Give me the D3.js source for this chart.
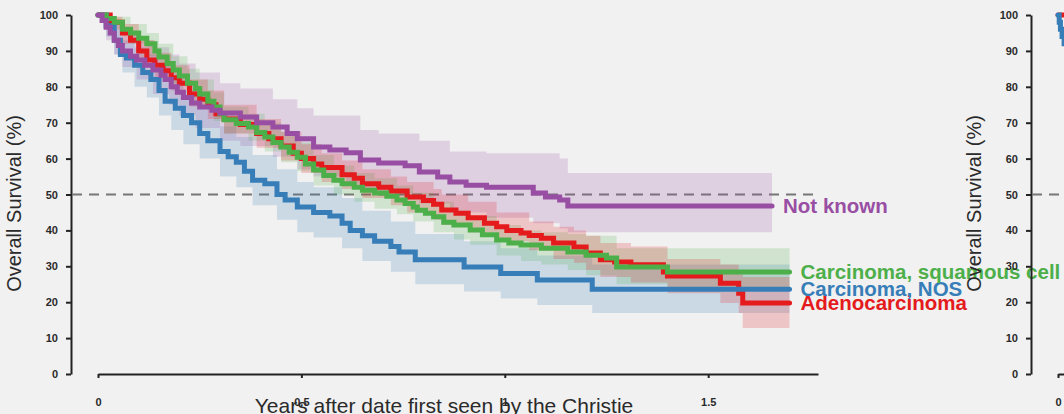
<!DOCTYPE html>
<html>
<head>
<meta charset="utf-8">
<script src="https://cdn.jsdelivr.net/npm/d3@7"></script>
<style>
  html, body { margin: 0; padding: 0; background: #f1f1f1; overflow: hidden; }
  svg { display: block; }
</style>
</head>
<body>
<svg id="chart" width="1064" height="414"></svg>
<script>
// ---- Kaplan-Meier survival by histology (years after date first seen by the Christie) ----

const seriesNames = ["Adenocarcinoma", "Carcinoma, NOS", "Carcinoma, squamous cell", "Not known"];
const yTickValues = [0, 10, 20, 30, 40, 50, 60, 70, 80, 90, 100];
const xTickValues = [0, 0.5, 1, 1.5];
const xTickLabels = ["0", "0.5", "1", "1.5"];
const medianLine = 50;

// Adenocarcinoma
const adenoTime = [0,0.03,0.06,0.08,0.10,0.12,0.14,0.16,0.18,0.20,0.225,0.25,0.27,0.29,0.31,0.35,0.39,0.42,0.45,0.48,0.50,0.53,0.55,0.60,0.63,0.65,0.69,0.72,0.76,0.80,0.825,0.845,0.88,0.91,0.95,0.98,1.005,1.04,1.06,1.09,1.12,1.17,1.20,1.235,1.27,1.31,1.39,1.40,1.53,1.575,1.585,1.70];
const adenoSurv = [100,98,95,93,90,87.5,86,84.5,82.5,81,78,76.5,75,72.5,71,69.5,67,65.5,63.5,61.5,60,58.5,57.5,55.5,54.5,53,52,51,49.3,48.3,47.3,45.7,44.8,43.5,42,41,40,39.3,38.6,37.8,36.5,35.4,33.7,31.8,31.2,30.4,28.4,27.3,25.3,22.5,19.8,19.8];
const adenoBandTime = [0,0.03,0.06,0.10,0.14,0.18,0.225,0.27,0.31,0.39,0.45,0.50,0.55,0.60,0.65,0.72,0.76,0.825,0.845,0.91,0.98,1.06,1.12,1.17,1.20,1.235,1.31,1.40,1.53,1.575,1.585,1.70];
const adenoLower = [100,96,92,87,82.5,79,74.5,71,67,63,59.5,56,53.5,51.5,49,47,45,43,41.5,39.5,37,34.5,32,31,29,27,25.5,22.5,19.8,17,12.8,12.8];
const adenoUpper = [100,99.5,97.5,93,89.5,86,82,79,75,71,67.5,64,61.5,59.5,57,55,53.5,51.5,50,48,45,42.5,41,40,38.5,36.5,35.5,32,30.5,28,27,27];

// Carcinoma, NOS
const nosTime = [0,0.02,0.04,0.055,0.07,0.09,0.11,0.13,0.15,0.165,0.19,0.21,0.23,0.25,0.27,0.30,0.32,0.34,0.36,0.38,0.41,0.44,0.46,0.49,0.53,0.57,0.60,0.62,0.65,0.68,0.72,0.74,0.78,0.90,0.99,1.08,1.215,1.70];
const nosSurv = [100,97,93,89,88,86,84,82,79,76,74,72,70,67,65,62,60.5,59,56.5,54,53,50,48.5,46.5,45,44,42,40,38.5,37,35.5,34,31.8,29.8,28,26.2,23.6,23.6];
const nosBandTime = [0,0.02,0.04,0.06,0.09,0.12,0.15,0.18,0.21,0.25,0.30,0.34,0.38,0.44,0.49,0.53,0.60,0.65,0.72,0.78,0.90,0.99,1.08,1.215,1.70];
const nosLower = [100,94,89,84,80,77,72,68,64,60,55,52,47,43,39.5,38,35,31.5,28.5,25,23,21,19.2,17,17];
const nosUpper = [100,99,96,93,91,89,86,82,79,74,69,66,61,57,53.5,52,49,45.5,42.5,39,37,35,33,30.5,30.5];

// Carcinoma, squamous cell
const sqTime = [0,0.02,0.04,0.06,0.08,0.10,0.12,0.14,0.15,0.17,0.185,0.20,0.22,0.24,0.25,0.27,0.285,0.30,0.31,0.34,0.37,0.39,0.41,0.43,0.45,0.47,0.49,0.51,0.53,0.555,0.58,0.60,0.63,0.65,0.68,0.71,0.735,0.755,0.775,0.785,0.805,0.825,0.85,0.875,0.915,0.945,0.98,1.01,1.04,1.09,1.155,1.20,1.25,1.275,1.40,1.70];
const sqSurv = [100,99,98,96,95,93.5,92,90,88.3,86.5,84.7,83,81,79.5,78,76,74.4,72.5,70.8,69.8,68.8,67.3,66,64.5,63.2,61.8,60.4,58.5,56.8,55.3,54,53,52,51.2,50.4,49.5,48.5,47.5,46.5,45.6,44.8,43.8,42.3,41.5,40.1,38.8,37.3,36.5,35.9,35,34,33.1,32.3,29.8,28.4,28.4];
const sqBandTime = [0,0.04,0.08,0.12,0.15,0.185,0.22,0.25,0.285,0.31,0.37,0.41,0.45,0.49,0.53,0.58,0.63,0.68,0.735,0.775,0.825,0.875,0.915,0.98,1.04,1.09,1.155,1.20,1.275,1.40,1.70];
const sqLower = [100,96,92,88.5,84.5,81,77,74,70.5,67,65,62,59,56.5,52.5,50,48,46,44.5,42.5,39.5,37.5,36,33,31.5,30.5,29,27.5,25,23.5,22];
const sqUpper = [100,99.5,97.5,95,92,88.5,85,82,78.5,74.5,72.5,70,67.5,64.5,61,58,56,54.5,52.5,50.5,48,45.5,44,41.5,40,39.5,39,38.5,35,35,35];

// Not known
const nkTime = [0,0.01,0.02,0.03,0.04,0.05,0.06,0.08,0.095,0.115,0.135,0.155,0.165,0.18,0.195,0.21,0.23,0.25,0.28,0.30,0.35,0.39,0.43,0.465,0.49,0.53,0.57,0.61,0.645,0.69,0.755,0.79,0.835,0.865,0.905,0.955,1.07,1.10,1.135,1.155,1.657];
const nkSurv = [100,98.5,96.6,95,93,91.5,90,88.5,87.5,86,84.7,83.2,82,80,78.5,77,75.5,74.4,73.5,72.7,71.6,70,68.8,67,65.5,63.2,62.4,61.6,59.6,58.8,58,56.3,54.9,53.5,52.6,52,50.4,49.3,48.5,46.8,46.8];
const nkBandTime = [0,0.02,0.04,0.06,0.095,0.135,0.175,0.20,0.24,0.30,0.35,0.43,0.49,0.53,0.61,0.645,0.69,0.79,0.865,0.955,1.07,1.135,1.155,1.657];
const nkLower = [100,93,89,85.5,82,78,75,72,68.5,65,63.5,60.5,57,55,53,51,50,47.5,45,43.5,42,40.5,39.5,39.5];
const nkUpper = [100,99.5,97.5,95,93,91,89,86.5,84,81,79.5,76.5,74,72,72,68,67,65,62,61.5,61.5,60,56,56];

// Second panel (only its first steps fall inside the view)
const rightAdenoTime = [0, 0.03, 0.05];
const rightAdenoSurv = [100, 98, 95];
const rightNosTime = [0, 0.003, 0.006, 0.01, 0.015, 0.025];
const rightNosSurv = [100, 98, 96, 94, 92, 89];

// ---- drawing ----
const W = 1064, H = 414;
const FONT = "'Liberation Sans', Arial, sans-serif";
const svg = d3.select("#chart");
svg.append("rect").attr("width", W).attr("height", H).attr("fill", "#f1f1f1");

const x = d3.scaleLinear().domain([0, 1.77]).range([98, 818]);
const y = d3.scaleLinear().domain([0, 100]).range([374, 15]);

const mainSeries = [
  { name: seriesNames[0], color: "#e41a1c", t: adenoTime, s: adenoSurv, bt: adenoBandTime, lo: adenoLower, hi: adenoUpper },
  { name: seriesNames[1], color: "#377eb8", t: nosTime, s: nosSurv, bt: nosBandTime, lo: nosLower, hi: nosUpper },
  { name: seriesNames[2], color: "#4daf4a", t: sqTime, s: sqSurv, bt: sqBandTime, lo: sqLower, hi: sqUpper },
  { name: seriesNames[3], color: "#984ea3", t: nkTime, s: nkSurv, bt: nkBandTime, lo: nkLower, hi: nkUpper }
];
const rightSeries = [
  { name: seriesNames[0], color: "#e41a1c", t: rightAdenoTime, s: rightAdenoSurv },
  { name: seriesNames[1], color: "#377eb8", t: rightNosTime, s: rightNosSurv }
];

const line = d3.line().curve(d3.curveStepAfter).x(d => x(d[0])).y(d => y(d[1]));
const area = d3.area().curve(d3.curveStepAfter)
  .x(d => x(d[0])).y0(d => y(d[1])).y1(d => y(d[2]));

function drawAxes(g) {
  const yAxis = g.append("g").attr("transform", `translate(71,0)`)
    .call(d3.axisLeft(y).tickValues(yTickValues).tickSize(5).tickSizeOuter(0).tickPadding(8));
  const xAxis = g.append("g").attr("transform", `translate(0,374)`)
    .call(d3.axisBottom(x).tickValues(xTickValues).tickFormat((d, i) => xTickLabels[i])
      .tickSize(4).tickSizeOuter(0).tickPadding(20));
  [yAxis, xAxis].forEach(a => {
    a.select(".domain").attr("stroke", "#222").attr("stroke-width", 2);
    a.selectAll(".tick line").attr("stroke", "#222").attr("stroke-width", 2);
    a.selectAll(".tick text").attr("fill", "#2a2a2a")
      .style("font-family", FONT).style("font-size", "11px").style("font-weight", "bold");
  });

  // 50% reference
  g.append("line")
    .attr("x1", 72).attr("x2", x.range()[1])
    .attr("y1", y(medianLine)).attr("y2", y(medianLine))
    .attr("stroke", "#777").attr("stroke-width", 2).attr("stroke-dasharray", "10,7");
}

function drawTitles(g) {
  g.append("text")
    .attr("transform", `translate(21,${y(50) + 9}) rotate(-90)`)
    .attr("text-anchor", "middle")
    .attr("fill", "#2a2a2a")
    .style("font-family", FONT).style("font-size", "20px")
    .text("Overall Survival (%)");
  g.append("text")
    .attr("x", 444).attr("y", 413)
    .attr("text-anchor", "middle")
    .attr("fill", "#2a2a2a")
    .style("font-family", FONT).style("font-size", "21px")
    .text("Years after date first seen by the Christie");
}

// Left panel
const left = svg.append("g");
drawAxes(left);

// confidence bands
const bandOrder = [1, 3, 2, 0];
bandOrder.forEach(i => {
  const s = mainSeries[i];
  left.append("path")
    .datum(d3.zip(s.bt, s.lo, s.hi))
    .attr("d", area)
    .attr("fill", s.color)
    .attr("fill-opacity", 0.2);
});

// survival curves
const lineOrder = [0, 1, 2, 3];
lineOrder.forEach(i => {
  const s = mainSeries[i];
  left.append("path")
    .datum(d3.zip(s.t, s.s))
    .attr("d", line)
    .attr("fill", "none")
    .attr("stroke", s.color)
    .attr("stroke-width", 5)
    .attr("stroke-linejoin", "miter")
    .attr("stroke-linecap", "round");
});

// end labels
mainSeries.forEach(s => {
  const n = s.t.length - 1;
  left.append("text")
    .attr("x", x(s.t[n]) + 11)
    .attr("y", y(s.s[n]))
    .attr("dy", "0.35em")
    .attr("fill", s.color)
    .style("font-family", FONT).style("font-size", "20.5px").style("font-weight", "bold")
    .text(s.name);
});

drawTitles(left);

// Right panel (second chart, mostly beyond the view)
const right = svg.append("g").attr("transform", "translate(960,0)");
drawAxes(right);
rightSeries.forEach(s => {
  right.append("path")
    .datum(d3.zip(s.t, s.s))
    .attr("d", line)
    .attr("fill", "none")
    .attr("stroke", s.color)
    .attr("stroke-width", 5)
    .attr("stroke-linecap", "round");
});
drawTitles(right);
</script>
</body>
</html>
